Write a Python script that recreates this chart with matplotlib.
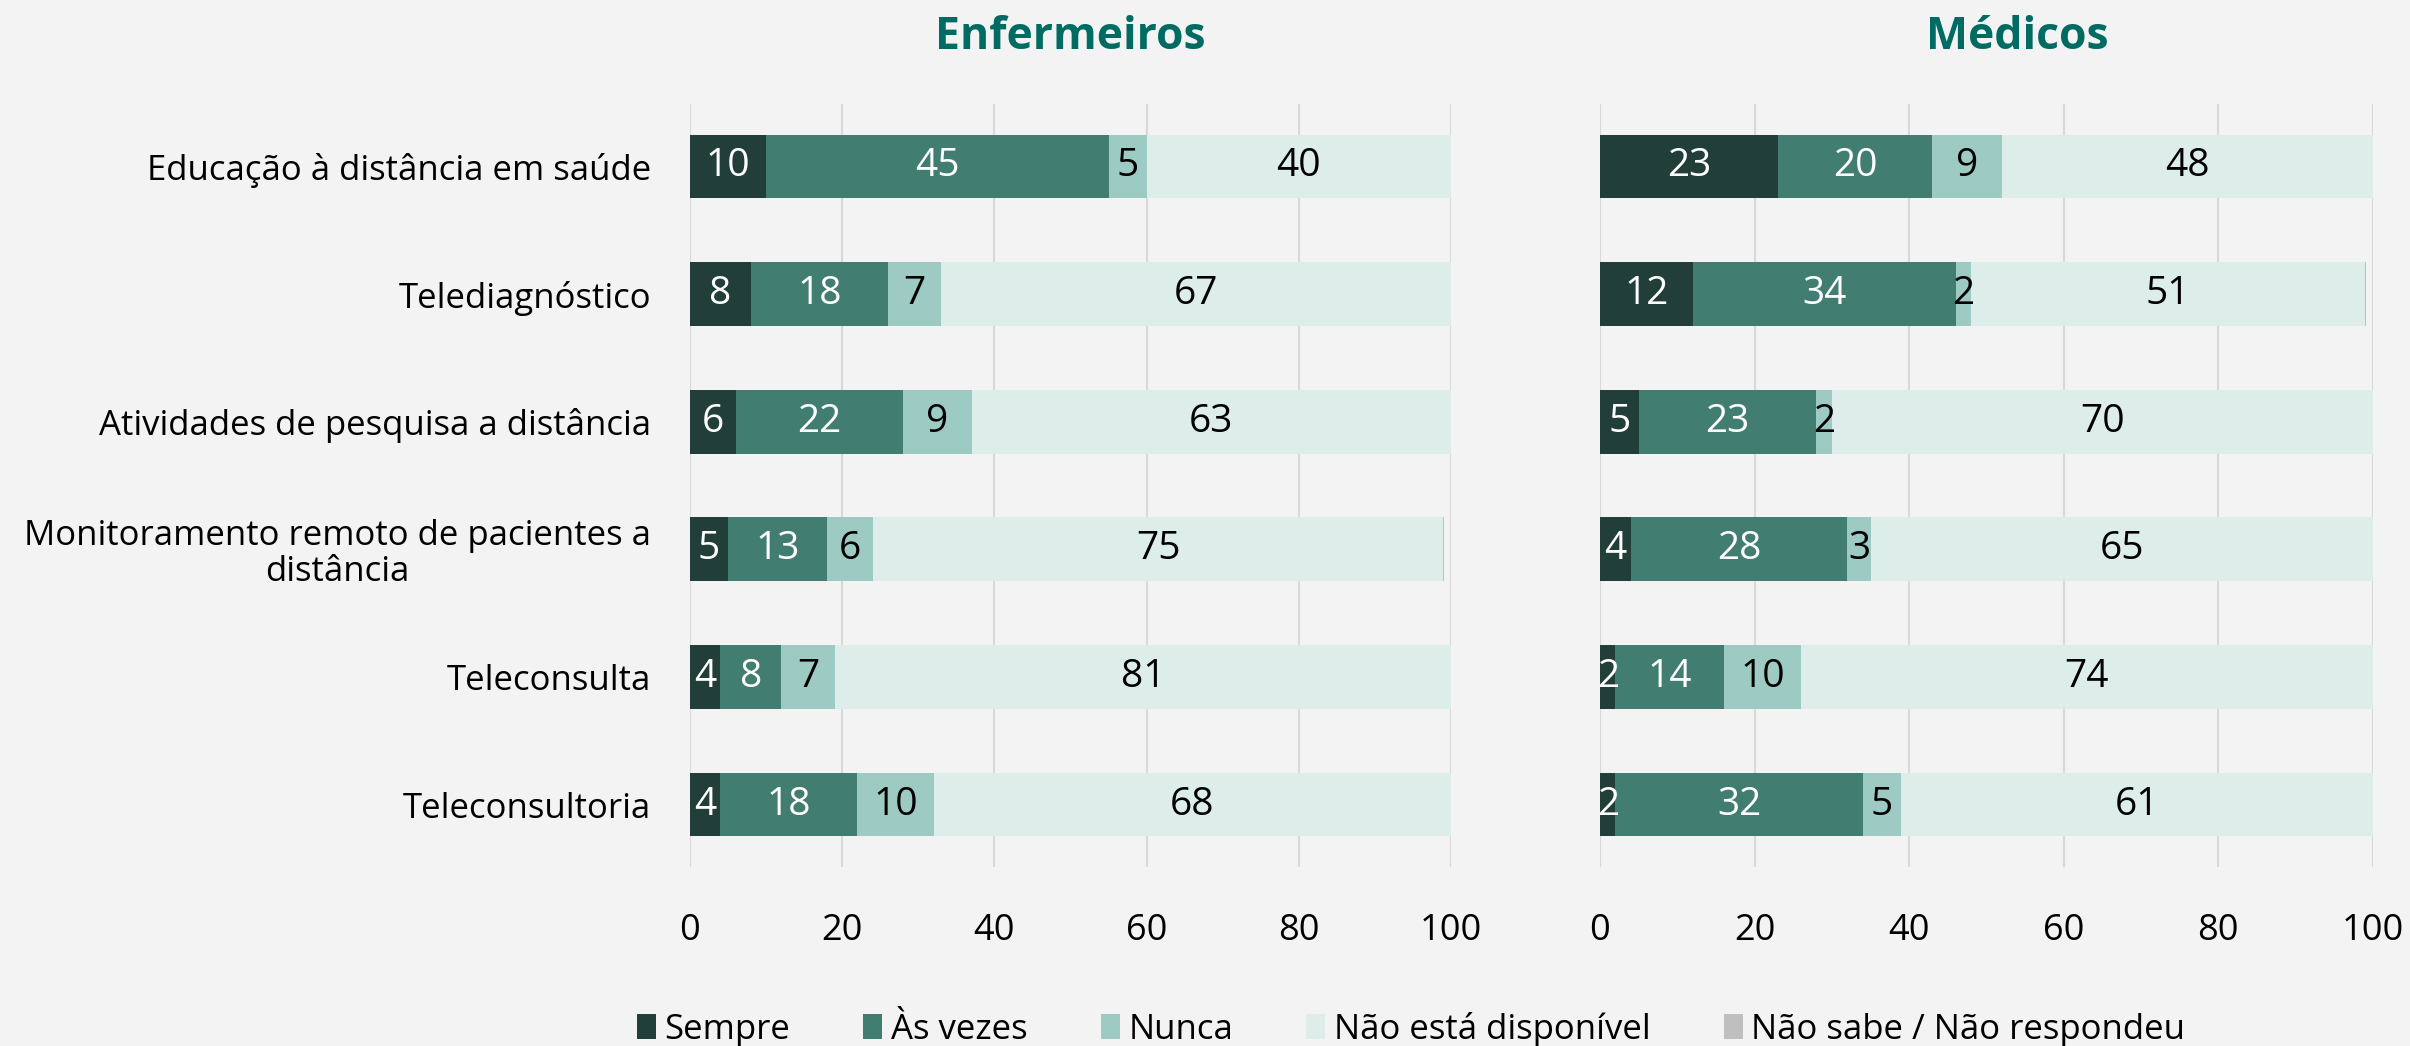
import matplotlib
matplotlib.use("Agg")
import matplotlib.pyplot as plt
from matplotlib.patches import Patch

plt.rcParams["font.family"] = ["Open Sans", "DejaVu Sans"]

# dados (%)
categorias = [
    "Educação à distância em saúde",
    "Telediagnóstico",
    "Atividades de pesquisa a distância",
    "Monitoramento remoto de pacientes a\ndistância",
    "Teleconsulta",
    "Teleconsultoria",
]
series = ["Sempre", "Às vezes", "Nunca", "Não está disponível", "Não sabe / Não respondeu"]
cores = ["#213f38", "#427d72", "#9dcbc3", "#ddedea", "#bfbfbf"]
cor_texto = ["white", "white", "black", "black", None]

enf_sempre = [10, 8, 6, 5, 4, 4]
enf_as_vezes = [45, 18, 22, 13, 8, 18]
enf_nunca = [5, 7, 9, 6, 7, 10]
enf_nao_disp = [40, 67, 63, 75, 81, 68]
enf_nao_sabe = [0, 0, 0, 0.1, 0, 0.1]

med_sempre = [23, 12, 5, 4, 2, 2]
med_as_vezes = [20, 34, 23, 28, 14, 32]
med_nunca = [9, 2, 2, 3, 10, 5]
med_nao_disp = [48, 51, 70, 65, 74, 61]
med_nao_sabe = [0, 0.1, 0, 0, 0, 0]

paineis = [
    ("Enfermeiros", [enf_sempre, enf_as_vezes, enf_nunca, enf_nao_disp, enf_nao_sabe]),
    ("Médicos", [med_sempre, med_as_vezes, med_nunca, med_nao_disp, med_nao_sabe]),
]

fundo = "#f3f3f3"
fig = plt.figure(figsize=(24.1, 10.46), dpi=100, facecolor=fundo)
ax_enf = fig.add_axes([0.2863, 0.1711, 0.3158, 0.7295])
ax_med = fig.add_axes([0.6639, 0.1711, 0.3207, 0.7295])

ypos = list(range(len(categorias)))
for ax, (titulo, dados) in zip([ax_enf, ax_med], paineis):
    ax.set_facecolor(fundo)
    esquerda = [0] * len(categorias)
    for vals, cor, ctxt in zip(dados, cores, cor_texto):
        barras = ax.barh(ypos, vals, left=esquerda, height=0.5, color=cor, zorder=2)
        if ctxt is not None:
            ax.bar_label(barras, labels=[f"{v:g}" for v in vals], label_type="center",
                         color=ctxt, fontsize=28)
        esquerda = [a + b for a, b in zip(esquerda, vals)]
    ax.set_xlim(0, 100)
    ax.set_ylim(len(categorias) - 0.51, -0.49)
    ax.set_xticks(range(0, 101, 20))
    ax.grid(axis="x", color="#d9d9d9", linewidth=1.5, zorder=0)
    for s in ax.spines.values():
        s.set_visible(False)
    ax.tick_params(axis="x", length=0, pad=33, labelsize=26)
    ax.tick_params(axis="y", length=0, pad=28, labelsize=25)

ax_enf.set_yticks(ypos)
ax_enf.set_yticklabels(categorias, ha="right", multialignment="center", linespacing=1.05)
ax_med.set_yticks([])

fig.text(0.444, 0.964, "Enfermeiros", ha="center", va="center", fontsize=32,
         fontweight="bold", color="#006b63")
fig.text(0.837, 0.964, "Médicos", ha="center", va="center", fontsize=32,
         fontweight="bold", color="#006b63")

handles = [Patch(facecolor=c, edgecolor="none") for c in cores]
fig.legend(handles, series, loc="center", bbox_to_anchor=(0.5855, 0.016), ncol=5,
           frameon=False, fontsize=25, handlelength=0.55, handleheight=0.75,
           handletextpad=0.25, columnspacing=2.1)

fig.savefig("out.png", dpi=100, facecolor=fundo)
